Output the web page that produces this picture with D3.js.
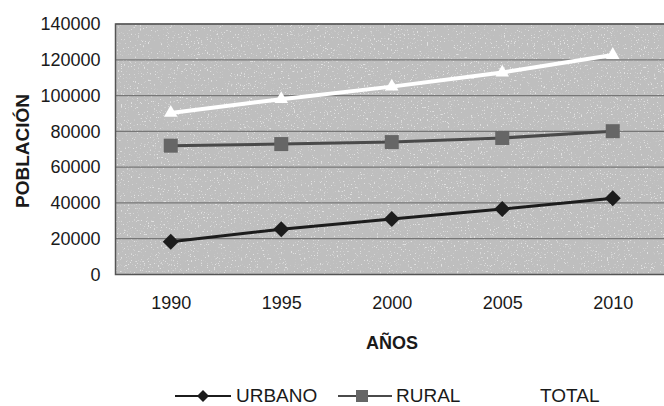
<!DOCTYPE html>
<html>
<head>
<meta charset="utf-8">
<script src="https://cdn.jsdelivr.net/npm/d3@7"></script>
<style>
  body { margin: 0; background: #fff; }
  text { font-family: Arial, "Liberation Sans", sans-serif; fill: #1a1a1a; }
</style>
</head>
<body>
<div id="chart"></div>
<script>
var years = ["1990", "1995", "2000", "2005", "2010"];
var urbano = [18300, 25300, 31000, 36600, 42600];
var rural = [72000, 72900, 74000, 76300, 80100];
var total = [90300, 98000, 105000, 112900, 122700];
var yTicks = [0, 20000, 40000, 60000, 80000, 100000, 120000, 140000];
var seriesNames = ["URBANO", "RURAL", "TOTAL"];

var W = 664, H = 406;
var pLeft = 115.5, pTop = 24, pBottom = 274.5, pRight = 668;

var svg = d3.select("#chart").append("svg")
    .attr("width", W)
    .attr("height", H);

// scan speckle texture for the plot area
var defs = svg.append("defs");
var f = defs.append("filter").attr("id", "speckle")
    .attr("x", 0).attr("y", 0).attr("width", 1).attr("height", 1);
f.append("feTurbulence")
    .attr("type", "fractalNoise")
    .attr("baseFrequency", 0.7)
    .attr("numOctaves", 2)
    .attr("seed", 4)
    .attr("result", "n");
f.append("feColorMatrix")
    .attr("in", "n")
    .attr("type", "matrix")
    .attr("values", "0 0 0 0 1  0 0 0 0 1  0 0 0 0 1  0 0 0 9 -5.8");

var x = d3.scalePoint()
    .domain(years)
    .range([pLeft, pRight])
    .padding(0.5);

var y = d3.scaleLinear()
    .domain([0, 140000])
    .range([pBottom, pTop]);

// plot background
svg.append("rect")
    .attr("x", pLeft)
    .attr("y", pTop)
    .attr("width", pRight - pLeft)
    .attr("height", pBottom - pTop)
    .attr("fill", "#bebebe");
svg.append("rect")
    .attr("x", pLeft)
    .attr("y", pTop)
    .attr("width", pRight - pLeft)
    .attr("height", pBottom - pTop)
    .attr("filter", "url(#speckle)")
    .attr("opacity", 0.55);

// gridlines
svg.selectAll("line.grid")
    .data(yTicks)
    .enter()
    .append("line")
    .attr("class", "grid")
    .attr("x1", pLeft)
    .attr("x2", pRight)
    .attr("y1", function(d){ return y(d); })
    .attr("y2", function(d){ return y(d); })
    .attr("stroke", "#777777")
    .attr("stroke-width", 1.2);

// border left / top / bottom
svg.append("path")
    .attr("d", "M" + pRight + "," + pTop + "H" + pLeft + "V" + pBottom + "H" + pRight)
    .attr("fill", "none")
    .attr("stroke", "#555555")
    .attr("stroke-width", 1.5);

// y axis labels
var yAxis = d3.axisLeft(y).tickValues(yTicks).tickSize(0).tickPadding(15).tickFormat(d3.format("d"));
var gy = svg.append("g")
    .attr("transform", "translate(" + pLeft + ",0)")
    .call(yAxis);
gy.select(".domain").remove();
gy.selectAll("text")
    .attr("font-size", 18)
    .attr("font-family", "Arial, 'Liberation Sans', sans-serif")
    .attr("fill", "#1a1a1a");

// x axis labels
var xAxis = d3.axisBottom(x).tickSize(0).tickPadding(22);
var gx = svg.append("g")
    .attr("transform", "translate(0," + pBottom + ")")
    .call(xAxis);
gx.select(".domain").remove();
gx.selectAll("text")
    .attr("font-size", 18)
    .attr("font-family", "Arial, 'Liberation Sans', sans-serif")
    .attr("fill", "#1a1a1a");

// axis titles
svg.append("text")
    .attr("transform", "translate(29,151) rotate(-90)")
    .attr("text-anchor", "middle")
    .attr("font-size", 19)
    .attr("font-weight", 700)
    .text("POBLACIÓN");

svg.append("text")
    .attr("x", 392)
    .attr("y", 349)
    .attr("text-anchor", "middle")
    .attr("font-size", 18)
    .attr("font-weight", 700)
    .text("AÑOS");

var line = d3.line()
    .x(function(d, i){ return x(years[i]); })
    .y(function(d){ return y(d); });

function diamond(g, cx, cy, r, fill) {
    g.append("path")
        .attr("d", "M" + cx + "," + (cy - r) + "L" + (cx + r) + "," + cy + "L" + cx + "," + (cy + r) + "L" + (cx - r) + "," + cy + "Z")
        .attr("fill", fill);
}

// TOTAL (white)
svg.append("path")
    .datum(total)
    .attr("d", line)
    .attr("fill", "none")
    .attr("stroke", "#ffffff")
    .attr("stroke-width", 4);
svg.selectAll("path.tri")
    .data(total)
    .enter()
    .append("path")
    .attr("class", "tri")
    .attr("d", d3.symbol().type(d3.symbolTriangle).size(80))
    .attr("transform", function(d, i){ return "translate(" + x(years[i]) + "," + y(d) + ")"; })
    .attr("fill", "#ffffff");

// RURAL
svg.append("path")
    .datum(rural)
    .attr("d", line)
    .attr("fill", "none")
    .attr("stroke", "#4a4a4a")
    .attr("stroke-width", 3);
svg.selectAll("rect.sq")
    .data(rural)
    .enter()
    .append("rect")
    .attr("class", "sq")
    .attr("x", function(d, i){ return x(years[i]) - 7; })
    .attr("y", function(d){ return y(d) - 7; })
    .attr("width", 14)
    .attr("height", 14)
    .attr("fill", "#666666");

// URBANO
svg.append("path")
    .datum(urbano)
    .attr("d", line)
    .attr("fill", "none")
    .attr("stroke", "#1c1c1c")
    .attr("stroke-width", 3);
urbano.forEach(function(d, i){
    diamond(svg, x(years[i]), y(d), 8, "#1c1c1c");
});

// legend
var ly = 396;
svg.append("line").attr("x1", 175).attr("x2", 231).attr("y1", ly).attr("y2", ly)
    .attr("stroke", "#1c1c1c").attr("stroke-width", 2);
diamond(svg, 203, ly, 6, "#1c1c1c");
svg.append("text").attr("x", 236).attr("y", ly + 6).attr("font-size", 19).text(seriesNames[0]);

svg.append("line").attr("x1", 338).attr("x2", 392).attr("y1", ly).attr("y2", ly)
    .attr("stroke", "#4a4a4a").attr("stroke-width", 2);
svg.append("rect").attr("x", 356).attr("y", ly - 6).attr("width", 12).attr("height", 12).attr("fill", "#666666");
svg.append("text").attr("x", 396).attr("y", ly + 6).attr("font-size", 19).text(seriesNames[1]);

svg.append("line").attr("x1", 482).attr("x2", 536).attr("y1", ly).attr("y2", ly)
    .attr("stroke", "#ffffff").attr("stroke-width", 2);
svg.append("text").attr("x", 540).attr("y", ly + 6).attr("font-size", 19).text(seriesNames[2]);
</script>
</body>
</html>
